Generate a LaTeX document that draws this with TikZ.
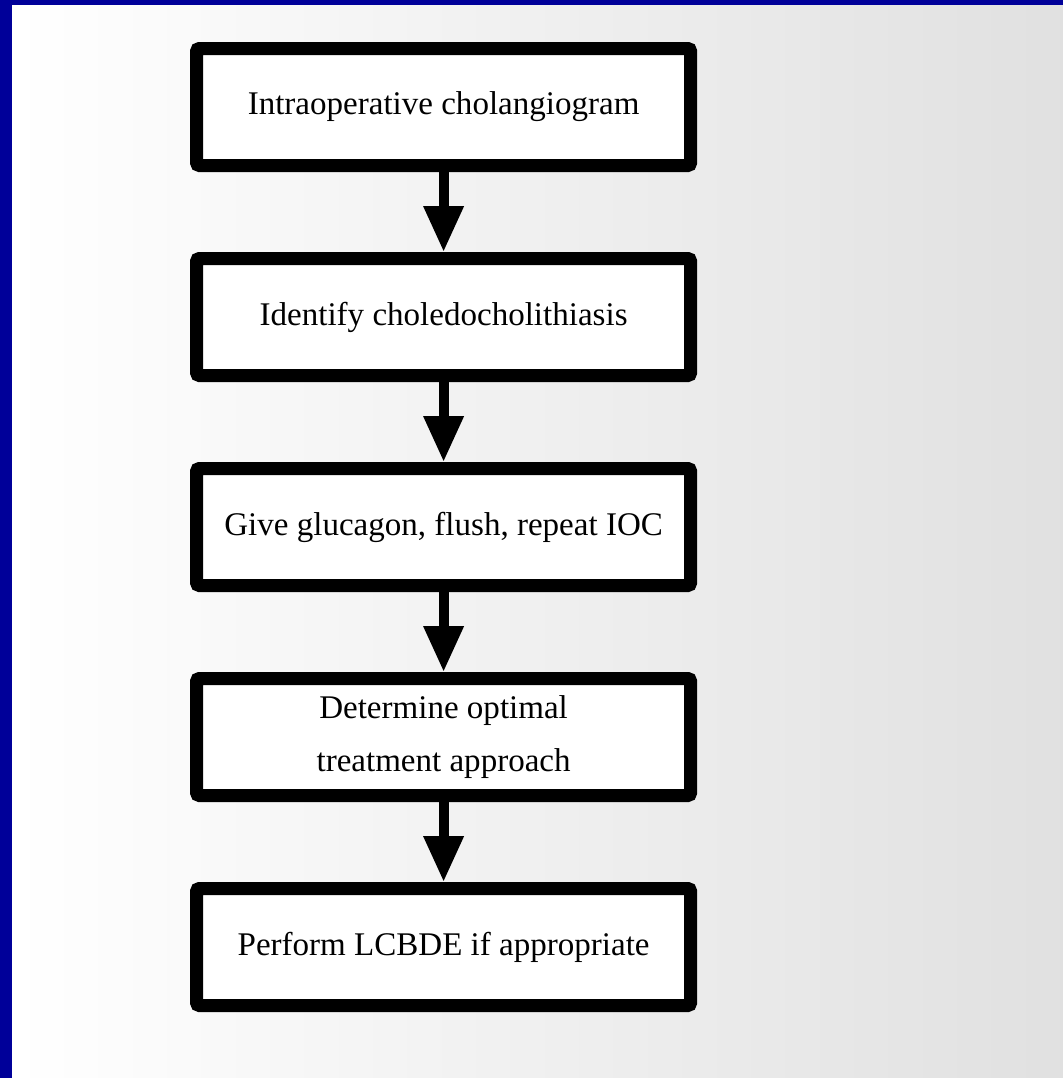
\documentclass[tikz,border=0pt]{standalone}
\usepackage{fontspec}
\setmainfont{Liberation Serif}
\usetikzlibrary{arrows.meta,positioning}
\definecolor{slideblue}{RGB}{0,0,153}

\begin{document}
\begin{tikzpicture}[
    stepbox/.style={rectangle, draw=black, line width=0.325cm, fill=white, minimum width=12.35cm, minimum height=2.925cm, text centered, align=center, rounded corners=2pt, font=\fontsize{23.5}{38}\selectfont},
    arrow/.style={-{Triangle[width=0.95cm,length=1.15cm]}, line width=0.25cm}
]

% slide frame and background
\useasboundingbox (0,0) rectangle (26.575,-26.95);
\fill[slideblue] (0,0) rectangle (26.575,-26.95);
\shade[left color=white, right color=black!12] (0.3,-0.125) rectangle (26.575,-26.95);

\node[stepbox] (ioc) at (11.09,-2.675) {Intraoperative cholangiogram};
\node[stepbox, below=2cm of ioc] (identify) {Identify choledocholithiasis};
\node[stepbox, below=2cm of identify] (glucagon) {Give glucagon, flush, repeat IOC};
\node[stepbox, below=2cm of glucagon] (approach) {Determine optimal\\treatment approach};
\node[stepbox, below=2cm of approach] (lcbde) {Perform LCBDE if appropriate};

\draw[arrow] (ioc) -- (identify);
\draw[arrow] (identify) -- (glucagon);
\draw[arrow] (glucagon) -- (approach);
\draw[arrow] (approach) -- (lcbde);

\end{tikzpicture}
\end{document}
